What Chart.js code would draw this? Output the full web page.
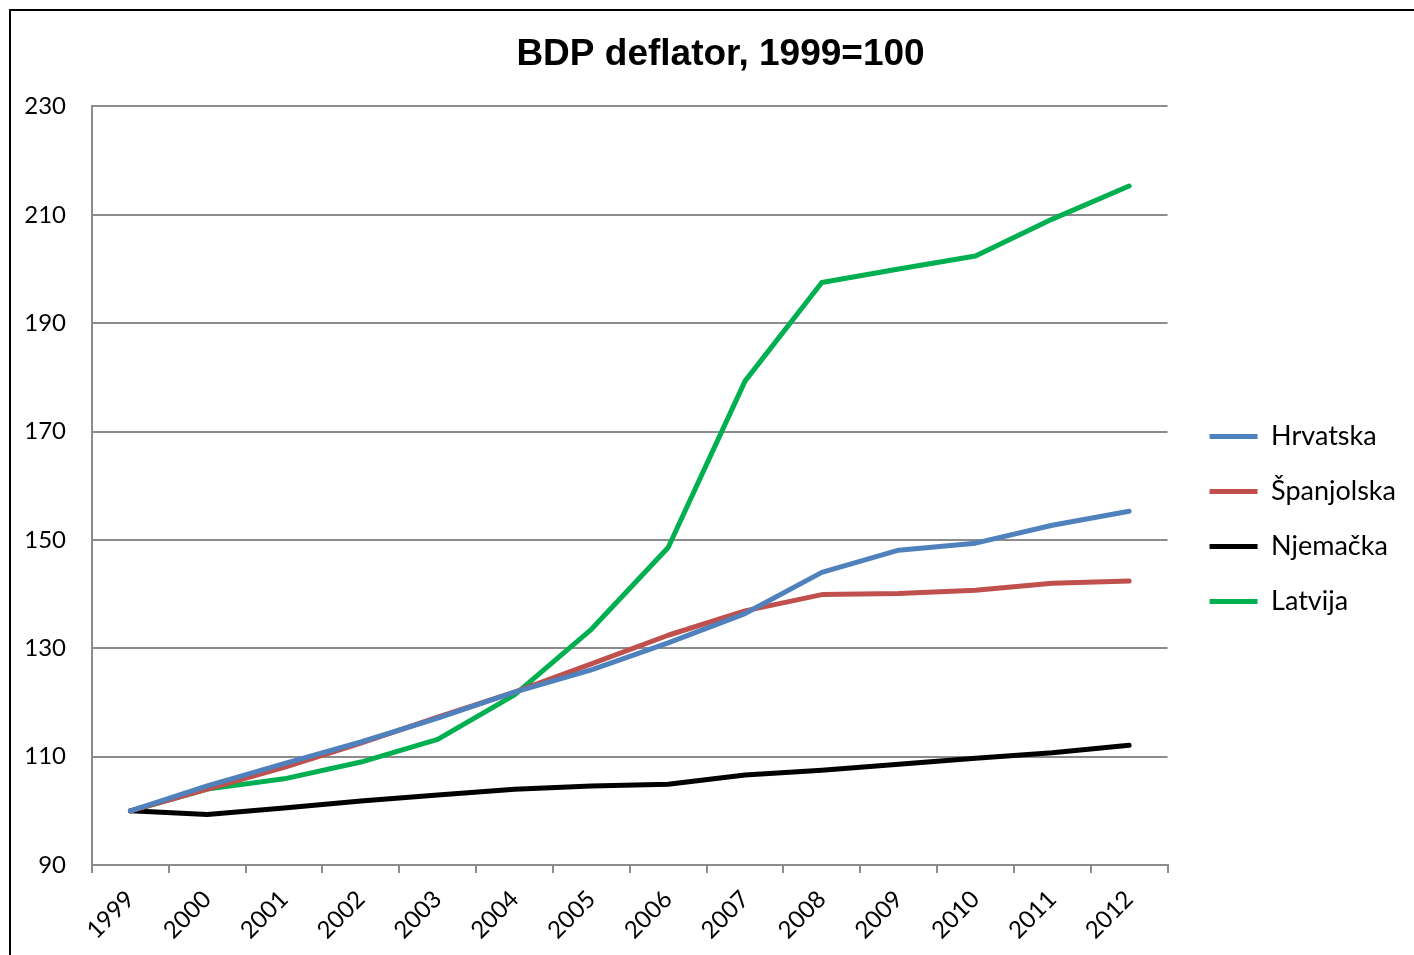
<!DOCTYPE html>
<html>
<head>
<meta charset="utf-8">
<script src="https://cdn.jsdelivr.net/npm/chart.js@4/dist/chart.umd.min.js"></script>
<style>
    body { margin: 0; background: #fff; }
    #frame {
        position: absolute;
        left: 9px;
        top: 9px;
        width: 1420px;
        height: 960px;
        border: 2px solid #000;
    }
    #wrap {
        position: absolute;
        left: 0;
        top: 0;
        width: 1403px;
        height: 944px;
    }
</style>
</head>
<body>
<div id="frame">
    <div id="wrap"><canvas id="deflator-chart"></canvas></div>
</div>
<script>
// Chart data
const years = ['1999', '2000', '2001', '2002', '2003', '2004', '2005', '2006', '2007', '2008', '2009', '2010', '2011', '2012'];
const hrvatska = [100, 104.6, 108.7, 112.7, 117.1, 121.9, 126.0, 131.0, 136.4, 144.0, 148.1, 149.4, 152.7, 155.3];
const spanjolska = [100, 104.0, 108.0, 112.5, 117.3, 121.9, 127.1, 132.4, 136.9, 139.9, 140.1, 140.7, 142.0, 142.4];
const njemacka = [100, 99.3, 100.5, 101.8, 102.9, 104.0, 104.6, 104.9, 106.6, 107.5, 108.6, 109.7, 110.7, 112.1];
const latvija = [100, 104.0, 105.9, 109.0, 113.2, 121.4, 133.5, 148.6, 179.3, 197.5, 200.0, 202.4, 209.2, 215.3];

const yTicks = [90, 110, 130, 150, 170, 190, 210, 230];

const gridColor = '#8c8c8c';
const labelFont = { family: 'Lato', size: 24 };

function makeSeries(label, data, color) {
    return {
        label: label,
        data: data,
        borderColor: color,
        backgroundColor: color,
        borderWidth: 5,
        borderCapStyle: 'round',
        borderJoinStyle: 'round',
        pointRadius: 0,
        pointHoverRadius: 0,
        tension: 0,
        fill: false
    };
}

// Nudge the legend and title boxes so they sit where the original ones do
const boxOffset = {
    id: 'boxOffset',
    afterLayout: function(chart) {
        const legend = chart.legend;
        legend.left += 14;
        legend.right += 14;
        legend.top += 36;
        legend.bottom += 36;

        const title = chart.titleBlock;
        title.left += 19;
        title.right += 19;
    }
};

const ctx = document.getElementById('deflator-chart').getContext('2d');

const chart = new Chart(ctx, {
    type: 'line',
    data: {
        labels: years,
        datasets: [
            makeSeries('Hrvatska', hrvatska, '#4f81bd'),
            makeSeries('Španjolska', spanjolska, '#c0504d'),
            makeSeries('Njemačka', njemacka, '#000000'),
            makeSeries('Latvija', latvija, '#00b050')
        ]
    },
    plugins: [boxOffset],
    options: {
        responsive: true,
        maintainAspectRatio: false,
        animation: false,
        layout: {
            padding: { left: 0, right: 22, top: 0, bottom: 0 }
        },
        plugins: {
            title: {
                display: true,
                text: 'BDP deflator, 1999=100',
                color: '#000',
                font: { family: 'Liberation Sans', size: 37, weight: 'bold' },
                padding: { top: 22, bottom: 29 }
            },
            legend: {
                position: 'right',
                align: 'center',
                labels: {
                    color: '#000',
                    font: { family: 'Lato', size: 27 },
                    usePointStyle: true,
                    pointStyle: 'line',
                    pointStyleWidth: 48,
                    boxWidth: 48,
                    boxHeight: 26,
                    padding: 28
                }
            },
            tooltip: { enabled: false }
        },
        scales: {
            x: {
                offset: true,
                grid: {
                    display: true,
                    offset: true,
                    drawOnChartArea: false,
                    drawTicks: true,
                    tickLength: 8,
                    color: gridColor,
                    lineWidth: 2
                },
                border: { display: true, color: gridColor, width: 2 },
                ticks: {
                    color: '#000',
                    font: labelFont,
                    minRotation: 45,
                    maxRotation: 45,
                    padding: 12,
                    autoSkip: false
                },
                afterFit: function(scale) {
                    scale.height = 90;
                }
            },
            y: {
                min: 90,
                max: 230,
                grid: {
                    color: gridColor,
                    lineWidth: 2,
                    drawTicks: false
                },
                border: { display: true, color: gridColor, width: 2 },
                afterBuildTicks: function(scale) {
                    scale.ticks = yTicks.map(function(v) { return { value: v }; });
                },
                ticks: {
                    color: '#000',
                    font: labelFont,
                    padding: 26
                },
                afterFit: function(scale) {
                    scale.width = 81;
                }
            }
        }
    }
});
</script>
</body>
</html>
